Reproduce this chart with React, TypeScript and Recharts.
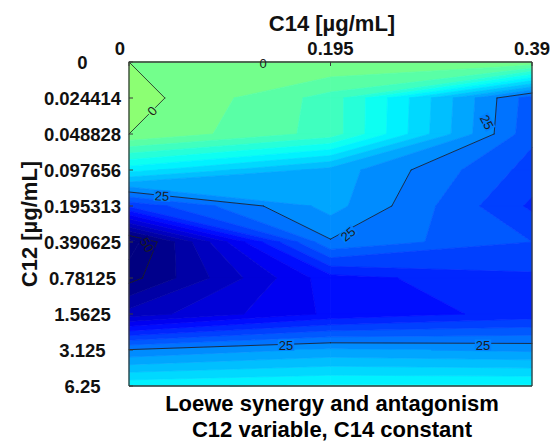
import { ComposedChart, XAxis, YAxis, ReferenceArea, ReferenceDot, Scatter } from "recharts";

// C14 concentrations (columns) and C12 concentrations (rows, top to bottom)
const c14Ticks = [0, 0.195, 0.39];
const c14Labels = ["0", "0.195", "0.39"];
const c12Labels = [
  "0",
  "0.024414",
  "0.048828",
  "0.097656",
  "0.195313",
  "0.390625",
  "0.78125",
  "1.5625",
  "3.125",
  "6.25",
];
const c12Index = c12Labels.map((_, i) => i);

// Loewe synergy score at each C12 level, one array per C14 column
const synergyC14_0 = [0, -1.3, 0, 14, 32, 54, 51, 44, 24.8, 13];
const synergyC14_0195 = [0, 6, 6, 21, 21.5, 25.3, 36, 37, 22, 12];
const synergyC14_039 = [0, 29, 29.4, 31, 33, 30, 33, 34, 23, 12];
const columns = [synergyC14_0, synergyC14_0195, synergyC14_039];

const contourLevels = [0, 25, 50];
const contourLabels = [
  { text: "0", level: 0, x: 0.1297, y: 0.03, angle: 0, bg: false },
  { text: "0", level: 0, x: 0.0223, y: 1.36, angle: -49, bg: true },
  { text: "25", level: 25, x: 0.0319, y: 3.72, angle: 3, bg: true },
  { text: "25", level: 25, x: 0.2119, y: 4.78, angle: -40, bg: true },
  { text: "25", level: 25, x: 0.3464, y: 1.67, angle: 62, bg: true },
  { text: "50", level: 50, x: 0.0174, y: 5.08, angle: 60, bg: true },
  { text: "25", level: 25, x: 0.1519, y: 7.86, angle: 0, bg: true },
  { text: "25", level: 25, x: 0.3426, y: 7.86, angle: 0, bg: true },
];

// grid nodes, one per (C12, C14) pair
const nodes = columns.flatMap((col, j) =>
  col.map((score, i) => ({ c14: c14Ticks[j], row: i, score }))
);

const FONT = "'Liberation Sans', Arial, Helvetica, sans-serif";
const FRAME = "#3a3a3a";
const CMIN = -50;
const CMAX = 50;
const STEP = 2.5;

// flipped jet colormap
function colorOf(v: number) {
  const t = Math.min(1, Math.max(0, (CMAX - v) / (CMAX - CMIN)));
  const c = (k: number) =>
    Math.round(255 * Math.min(1, Math.max(0, 1.5 - Math.abs(4 * t - k))));
  return `rgb(${c(3)},${c(2)},${c(1)})`;
}

type P = [number, number, number];

function cut(a: P, b: P, L: number): P {
  const t = (L - a[2]) / (b[2] - a[2]);
  return [a[0] + t * (b[0] - a[0]), a[1] + t * (b[1] - a[1]), L];
}

function clip(poly: P[], L: number, keepAbove: boolean): P[] {
  const inside = (p: P) => (keepAbove ? p[2] >= L : p[2] <= L);
  const out: P[] = [];
  for (let k = 0; k < poly.length; k++) {
    const cur = poly[k];
    const prev = poly[(k + poly.length - 1) % poly.length];
    if (inside(cur)) {
      if (!inside(prev)) out.push(cut(prev, cur, L));
      out.push(cur);
    } else if (inside(prev)) {
      out.push(cut(prev, cur, L));
    }
  }
  return out;
}

// corners of one grid cell in pixels: tl, tr, br, bl
function quad(x: number, y: number, w: number, h: number, i: number, j: number): P[] {
  return [
    [x, y, columns[j][i]],
    [x + w, y, columns[j + 1][i]],
    [x + w, y + h, columns[j + 1][i + 1]],
    [x, y + h, columns[j][i + 1]],
  ];
}

function CellFill(props: any) {
  const { x, y, width, height, i, j } = props;
  if (x == null || y == null) return null;
  const q = quad(x, y, width, height, i, j);
  const vs = q.map((p) => p[2]);
  const lo = Math.floor(Math.min(...vs) / STEP) * STEP;
  const hi = Math.max(...vs);
  const polys: any[] = [];
  for (let L = lo; L < hi + 1e-9; L += STEP) {
    let poly = clip(q, L, true);
    if (poly.length >= 3) poly = clip(poly, L + STEP, false);
    if (poly.length < 3) continue;
    const fill = colorOf(L + STEP / 2);
    polys.push(
      <polygon
        key={L}
        points={poly.map((p) => `${p[0]},${p[1]}`).join(" ")}
        fill={fill}
        stroke={fill}
        strokeWidth={0.7}
        strokeLinejoin="round"
      />
    );
  }
  return <g>{polys}</g>;
}

function CellLines(props: any) {
  const { x, y, width, height, i, j } = props;
  if (x == null || y == null) return null;
  const q = quad(x, y, width, height, i, j);
  const center = (q[0][2] + q[1][2] + q[2][2] + q[3][2]) / 4;
  const segs: any[] = [];
  contourLevels.forEach((L) => {
    const pts: P[] = [];
    for (let k = 0; k < 4; k++) {
      const a = q[k];
      const b = q[(k + 1) % 4];
      if (a[2] >= L !== b[2] >= L) pts.push(cut(a, b, L));
    }
    const pairs: P[][] = [];
    if (pts.length === 2) pairs.push([pts[0], pts[1]]);
    if (pts.length === 4) {
      if ((center >= L) === (q[0][2] >= L)) {
        pairs.push([pts[0], pts[1]], [pts[2], pts[3]]);
      } else {
        pairs.push([pts[3], pts[0]], [pts[1], pts[2]]);
      }
    }
    pairs.forEach(([a, b], k) =>
      segs.push(
        <line
          key={`${L}-${k}`}
          x1={a[0]}
          y1={a[1]}
          x2={b[0]}
          y2={b[1]}
          stroke="#1c1c1c"
          strokeWidth={0.8}
          strokeLinecap="round"
        />
      )
    );
  });
  return <g>{segs}</g>;
}

function ContourLabel(props: any) {
  const { cx, cy, text, level, angle, bg } = props;
  if (cx == null || cy == null) return null;
  const w = text.length * 7.2 + 2;
  return (
    <g transform={`translate(${cx},${cy}) rotate(${angle})`}>
      {bg && <rect x={-w / 2} y={-5.5} width={w} height={11} fill={colorOf(level)} />}
      <text textAnchor="middle" dy="0.36em" fontSize={13} fontFamily={FONT} fill="#1c1c1c">
        {text}
      </text>
    </g>
  );
}

function XTick(props: any) {
  const { x, y, payload } = props;
  const shift = payload.value === 0 ? -9 : 0;
  return (
    <text
      x={x + shift}
      y={y}
      dy="0.36em"
      textAnchor="middle"
      fontSize={18.5}
      fontWeight={700}
      fontFamily={FONT}
      fill="#111"
    >
      {c14Labels[c14Ticks.indexOf(payload.value)]}
    </text>
  );
}

function YTick(props: any) {
  const { x, y, payload } = props;
  return (
    <text
      x={x}
      y={y}
      dy="0.36em"
      textAnchor="middle"
      fontSize={18.5}
      fontWeight={700}
      fontFamily={FONT}
      fill="#111"
    >
      {c12Labels[payload.value]}
    </text>
  );
}

const cells: { i: number; j: number }[] = [];
for (let i = 0; i < c12Labels.length - 1; i++) {
  for (let j = 0; j < c14Ticks.length - 1; j++) cells.push({ i, j });
}

const hidden = () => <g />;

export default function App() {
  return (
    <div style={{ position: "absolute", left: 0, top: 0, width: 552, height: 441, background: "#fff" }}>
      <ComposedChart width={552} height={441} data={nodes} margin={{ top: 0, right: 0, bottom: 0, left: 0 }}>
        <XAxis
          xAxisId="top"
          dataKey="c14"
          orientation="top"
          type="number"
          domain={[0, 0.39]}
          ticks={c14Ticks}
          interval={0}
          height={62}
          tickSize={-4}
          tickMargin={18}
          tick={<XTick />}
          axisLine={{ stroke: FRAME, strokeWidth: 1.3 }}
          tickLine={{ stroke: FRAME }}
        />
        <XAxis
          xAxisId="bottom"
          dataKey="c14"
          orientation="bottom"
          type="number"
          domain={[0, 0.39]}
          ticks={c14Ticks}
          interval={0}
          height={55}
          tickSize={-4}
          tick={false}
          axisLine={{ stroke: FRAME, strokeWidth: 1.3 }}
          tickLine={{ stroke: FRAME }}
        />
        <YAxis
          yAxisId="left"
          dataKey="row"
          orientation="left"
          type="number"
          domain={[0, 9]}
          reversed
          ticks={c12Index}
          interval={0}
          width={129}
          tickSize={-4}
          tickMargin={50.5}
          tick={<YTick />}
          axisLine={{ stroke: FRAME, strokeWidth: 1.3 }}
          tickLine={{ stroke: FRAME }}
        />
        <YAxis
          yAxisId="right"
          dataKey="row"
          orientation="right"
          type="number"
          domain={[0, 9]}
          reversed
          ticks={c12Index}
          interval={0}
          width={20}
          tickSize={-4}
          tick={false}
          axisLine={{ stroke: FRAME, strokeWidth: 1.3 }}
          tickLine={{ stroke: FRAME }}
        />
        <Scatter xAxisId="top" yAxisId="left" dataKey="row" shape={hidden} isAnimationActive={false} />
        <Scatter xAxisId="bottom" yAxisId="right" dataKey="row" shape={hidden} isAnimationActive={false} />
        {cells.map(({ i, j }) => (
          <ReferenceArea
            key={`f-${i}-${j}`}
            xAxisId="top"
            yAxisId="left"
            x1={c14Ticks[j]}
            x2={c14Ticks[j + 1]}
            y1={i}
            y2={i + 1}
            shape={(p: any) => <CellFill {...p} i={i} j={j} />}
          />
        ))}
        {cells.map(({ i, j }) => (
          <ReferenceArea
            key={`l-${i}-${j}`}
            xAxisId="top"
            yAxisId="left"
            x1={c14Ticks[j]}
            x2={c14Ticks[j + 1]}
            y1={i}
            y2={i + 1}
            shape={(p: any) => <CellLines {...p} i={i} j={j} />}
          />
        ))}
        {contourLabels.map((lab, k) => (
          <ReferenceDot
            key={`lab-${k}`}
            xAxisId="top"
            yAxisId="left"
            x={lab.x}
            y={lab.y}
            r={0}
            shape={(p: any) => <ContourLabel {...p} {...lab} />}
          />
        ))}
        <text x={332} y={31} textAnchor="middle" fontSize={22} fontWeight={700} fontFamily={FONT} fill="#111">
          C14 [µg/mL]
        </text>
        <text
          x={29}
          y={224}
          dy="0.36em"
          textAnchor="middle"
          transform="rotate(-90 29 224)"
          fontSize={22}
          fontWeight={700}
          fontFamily={FONT}
          fill="#111"
        >
          C12 [µg/mL]
        </text>
        <text x={332} y={411} textAnchor="middle" fontSize={22} fontWeight={700} fontFamily={FONT} fill="#000">
          Loewe synergy and antagonism
        </text>
        <text x={332} y={437} textAnchor="middle" fontSize={22} fontWeight={700} fontFamily={FONT} fill="#000">
          C12 variable, C14 constant
        </text>
      </ComposedChart>
    </div>
  );
}
